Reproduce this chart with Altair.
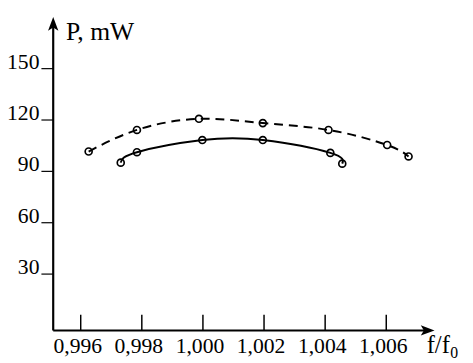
import altair as alt
import pandas as pd

# ---- data ----
dashed_f = [0.99626, 0.99784, 0.99987, 1.00196, 1.00411, 1.00603, 1.00673]
dashed_p = [101.6, 114.2, 120.7, 118.2, 114.2, 105.4, 98.7]
solid_f = [0.99731, 0.99784, 0.99998, 1.00196, 1.00417, 1.00456]
solid_p = [95.1, 101.2, 108.3, 108.3, 100.8, 94.5]

x_ticks = [0.996, 0.998, 1.000, 1.002, 1.004, 1.006]
x_tick_labels = ["0,996", "0,998", "1,000", "1,002", "1,004", "1,006"]
y_ticks = [30, 60, 90, 120, 150]
y_tick_labels = ["30", "60", "90", "120", "150"]

y_title = "P, mW"
x_title_main = "f/f"
x_title_sub = "0"

# ---- layout ----
W, H = 388, 319
X_DOMAIN = [0.99510, 1.00758]
Y_DOMAIN = [-2.93, 180.2]
FONT = "Liberation Serif, Times New Roman, serif"

xs = alt.Scale(domain=X_DOMAIN, nice=False, zero=False)
ys = alt.Scale(domain=Y_DOMAIN, nice=False, zero=False)

dashed = pd.DataFrame({"f": dashed_f, "p": dashed_p})
solid = pd.DataFrame({"f": solid_f, "p": solid_p})
xt = pd.DataFrame({"v": x_ticks, "t": x_tick_labels})
yt = pd.DataFrame({"v": y_ticks, "t": y_tick_labels})
one = pd.DataFrame({"a": [0]})

X = alt.X("f:Q", scale=xs, axis=None)
Y = alt.Y("p:Q", scale=ys, axis=None)

dashed_line = alt.Chart(dashed).mark_line(
    interpolate="natural", color="black", strokeWidth=2, strokeDash=[9, 6]
).encode(x=X, y=Y)
dashed_pts = alt.Chart(dashed).mark_point(
    shape="circle", size=50, filled=False, color="black", strokeWidth=1.7, opacity=1
).encode(x=X, y=Y)
solid_line = alt.Chart(solid).mark_line(
    interpolate="natural", color="black", strokeWidth=2
).encode(x=X, y=Y)
solid_pts = alt.Chart(solid).mark_point(
    shape="circle", size=50, filled=False, color="black", strokeWidth=1.7, opacity=1
).encode(x=X, y=Y)

# axes drawn by hand (arrows, inward x ticks)
x_axis = alt.Chart(one).mark_rule(color="black", strokeWidth=2.2).encode(
    x=alt.value(0), x2=alt.value(W - 8), y=alt.value(H)
)
y_axis = alt.Chart(one).mark_rule(color="black", strokeWidth=2.2).encode(
    x=alt.value(0), y=alt.value(8), y2=alt.value(H)
)
arrow_r = alt.Chart(one).mark_point(
    shape="M1,0 L-1,-0.75 L-0.55,0 L-1,0.75 Z", size=196, filled=True,
    color="black", opacity=1
).encode(x=alt.value(W - 7), y=alt.value(H))
arrow_u = alt.Chart(one).mark_point(
    shape="M0,-1 L-0.75,1 L0,0.55 L0.75,1 Z", size=196, filled=True,
    color="black", opacity=1
).encode(x=alt.value(0), y=alt.value(7))

x_tick_marks = alt.Chart(xt).mark_rule(color="black", strokeWidth=1.5).encode(
    x=alt.X("v:Q", scale=xs, axis=None), y=alt.value(H - 16), y2=alt.value(H)
)
x_tick_text = alt.Chart(xt).mark_text(
    font=FONT, fontSize=22, align="center", baseline="alphabetic", dx=-3, color="black"
).encode(x=alt.X("v:Q", scale=xs, axis=None), y=alt.value(H + 23), text="t:N")

y_tick_marks = alt.Chart(yt).mark_rule(color="black", strokeWidth=1.2).encode(
    y=alt.Y("v:Q", scale=ys, axis=None), x=alt.value(-12), x2=alt.value(0)
)
y_tick_text = alt.Chart(yt).mark_text(
    font=FONT, fontSize=22, align="right", baseline="alphabetic", color="black"
).encode(y=alt.Y("v:Q", scale=ys, axis=None), x=alt.value(-14), text="t:N")

y_title_text = alt.Chart(one).mark_text(
    text=y_title, font=FONT, fontSize=26, align="left", baseline="alphabetic", color="black"
).encode(x=alt.value(13), y=alt.value(23))
x_title_text = alt.Chart(one).mark_text(
    text=x_title_main, font=FONT, fontSize=25, align="left", baseline="alphabetic", color="black"
).encode(x=alt.value(380), y=alt.value(H + 23))
x_title_sub_text = alt.Chart(one).mark_text(
    text=x_title_sub, font=FONT, fontSize=16, align="left", baseline="alphabetic", color="black"
).encode(x=alt.value(404), y=alt.value(H + 28))

chart = alt.layer(
    x_axis, y_axis, arrow_r, arrow_u,
    x_tick_marks, x_tick_text, y_tick_marks, y_tick_text,
    y_title_text, x_title_text, x_title_sub_text,
    dashed_line, solid_line, dashed_pts, solid_pts,
).properties(
    width=W, height=H,
    autosize=alt.AutoSizeParams(type="none"),
    padding={"left": 46, "top": 6, "right": 31, "bottom": 30},
    background="white",
).configure_view(stroke=None)

chart.save("out.html", embed_options={"renderer": "svg", "actions": False})
